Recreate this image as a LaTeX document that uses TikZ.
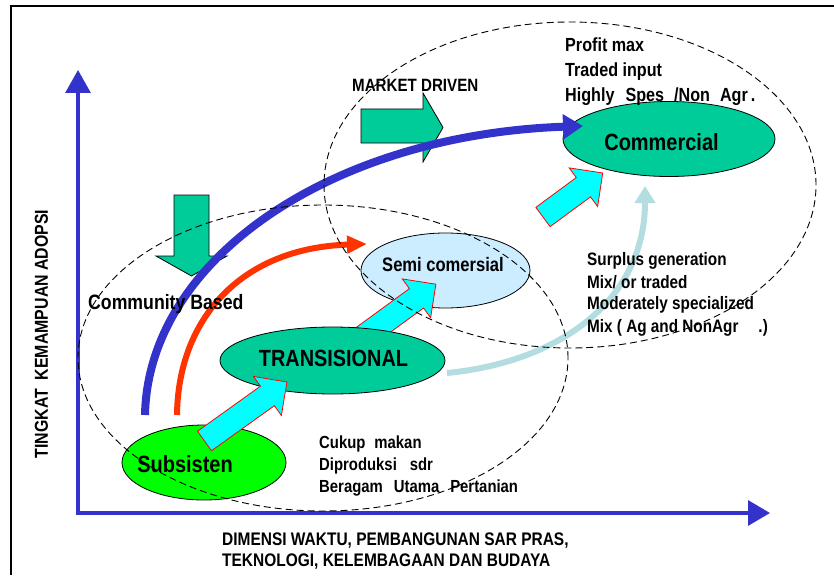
\documentclass[tikz,border=0pt]{standalone}
\usepackage{fontspec}
\setmainfont{Liberation Sans}[FakeStretch=0.85]
\usetikzlibrary{arrows.meta,shapes.geometric}
\definecolor{teal1}{HTML}{00CC99}
\definecolor{green1}{HTML}{00FF00}
\definecolor{semi}{HTML}{CCECFF}
\definecolor{cyan1}{HTML}{00FFFF}
\definecolor{red1}{HTML}{FF0000}
\definecolor{blue1}{HTML}{3333CC}
\definecolor{orange1}{HTML}{FF3300}
\definecolor{pale}{HTML}{B4DDE2}
\newcommand\myfs[1]{\fontsize{#1}{#1}\selectfont\bfseries}
\newcommand\cyanblock[3]{%
  \begin{scope}[shift={#1},rotate=#3]
    \draw[cyanarrow] (0,-12) -- ({#2-24},-12) -- ({#2-24},-24) -- (#2,0) -- ({#2-24},24) -- ({#2-24},12) -- (0,12) -- cycle;
  \end{scope}}
\tikzset{
  stage/.style={ellipse, draw=black, line width=0.8pt, inner sep=0pt},
  lbl/.style={inner sep=0pt, anchor=base west},
  clbl/.style={inner sep=0pt, anchor=base},
  tealblock/.style={fill=teal1, draw=black, line width=0.8pt, line join=miter},
  cyanarrow/.style={fill=cyan1, draw=red1, line width=0.8pt, line join=miter},
  zone/.style={draw=black, line width=0.9pt, dash pattern=on 7pt off 4pt},
  axis/.style={draw=blue1, line width=3.2pt, line join=miter,
    {Triangle[length=23pt,width=25pt]}-{Triangle[length=22pt,width=25pt]}}
}
\begin{document}
\begin{tikzpicture}[x=1pt,y=-1pt]
\useasboundingbox[fill=white] (0,0) rectangle (834,575);
% frame
\draw[line width=1.4pt] (834,6) -- (11,6) -- (11,575);
% axes
\coordinate (ytip) at (78,70);
\coordinate (xtip) at (770,513);
\draw[axis] (ytip) |- (xtip);
% teal block arrows
\draw[tealblock] (361,109) -- (423,109) -- (423,93) -- (443,127.5) -- (423,162) -- (423,143) -- (361,143) -- cycle;
\draw[tealblock] (174,195) -- (209,195) -- (209,256) -- (227,256) -- (191.5,276) -- (156,256) -- (174,256) -- cycle;
% stage ellipses and cyan arrows
\node[stage, fill=semi, minimum width=169pt, minimum height=75pt] (semi) at (445.5,270.5) {};
\node[stage, fill=green1, minimum width=164pt, minimum height=75pt] (subs) at (204,462.5) {};
\cyanblock{(347,349)}{110}{36.1}
\node[stage, fill=teal1, minimum width=225pt, minimum height=67pt] (trans) at (332.5,360.5) {};
\cyanblock{(204.5,441)}{101.4}{35.6}
\node[stage, fill=teal1, minimum width=212pt, minimum height=75pt] (comm) at (669,139) {};
\cyanblock{(543,217)}{74.2}{36.4}
% curved arrows
\coordinate (bstart) at (145,415);
\coordinate (btip) at (583,126);
\draw[blue1, line width=8pt, -{Triangle[length=20pt,width=24pt]}] (bstart) .. controls (148,260) and (330,135) .. (btip);
\coordinate (rstart) at (177,415);
\coordinate (rtip) at (367,244);
\draw[orange1, line width=6pt, -{Triangle[length=20pt,width=17pt]}] (rstart) .. controls (178,320) and (240,248) .. (rtip);
\coordinate (pstart) at (447,373);
\coordinate (ptip) at (645,186);
\draw[pale, line width=6pt, -{Triangle[length=17pt,width=20pt]}] (pstart) .. controls (560,362) and (645,300) .. (ptip);
% dashed zones
\draw[zone] (570,185) ellipse [x radius=246pt, y radius=163pt];
\draw[zone] (323,358) ellipse [x radius=245pt, y radius=153pt];
% texts
\node[lbl, font=\myfs{17.8}] (mkt) at (352,92) {MARKET DRIVEN};
\node[lbl, font=\myfs{19}] (p1) at (565,51.7) {Profit max};
\node[lbl, font=\myfs{19}] (p2) at (565,76.7) {Traded input};
\node[lbl, font=\myfs{19}] (p3) at (565,101.7) {Highly\hspace{11pt}Spes\hspace{10pt}/Non\hspace{10pt}Agr\hspace{3pt}.};
\node[clbl, font=\myfs{23.5}] (commt) at (661.5,150) {Commercial};
\node[clbl, font=\myfs{19.5}] (semit) at (443,271.7) {Semi comersial};
\node[clbl, font=\myfs{23.4}] (transt) at (333.5,366.7) {TRANSISIONAL};
\node[clbl, font=\myfs{23.5}] (subst) at (185,472.7) {Subsisten};
\node[lbl, font=\myfs{20.8}] (cb) at (88,309) {Community Based};
\node[lbl, font=\myfs{18}] (s1) at (587,265) {Surplus generation};
\node[lbl, font=\myfs{18}] (s2) at (587,288) {Mix/ or traded};
\node[lbl, font=\myfs{18}] (s3) at (587,309) {Moderately specialized};
\node[lbl, font=\myfs{18}] (s4) at (587,332) {Mix ( Ag and NonAgr\hspace{20pt}.)};
\node[lbl, font=\myfs{17.5}] (c1) at (319,448) {Cukup\hspace{9pt}makan};
\node[lbl, font=\myfs{17.5}] (c2) at (319,470) {Diproduksi\hspace{13pt}sdr};
\node[lbl, font=\myfs{17.5}] (c3) at (319,492) {Beragam\hspace{11pt}Utama\hspace{11pt}Pertanian};
\node[rotate=90, inner sep=0pt, font=\myfs{18.7}] (ylab) at (41.5,334) {TINGKAT\ \ KEMAMPUAN ADOPSI};
\node[lbl, font=\myfs{18.2}] (x1) at (222,545) {DIMENSI WAKTU, PEMBANGUNAN SAR PRAS,};
\node[lbl, font=\myfs{18.2}] (x2) at (222,566) {TEKNOLOGI, KELEMBAGAAN DAN BUDAYA};
\end{tikzpicture}
\end{document}
